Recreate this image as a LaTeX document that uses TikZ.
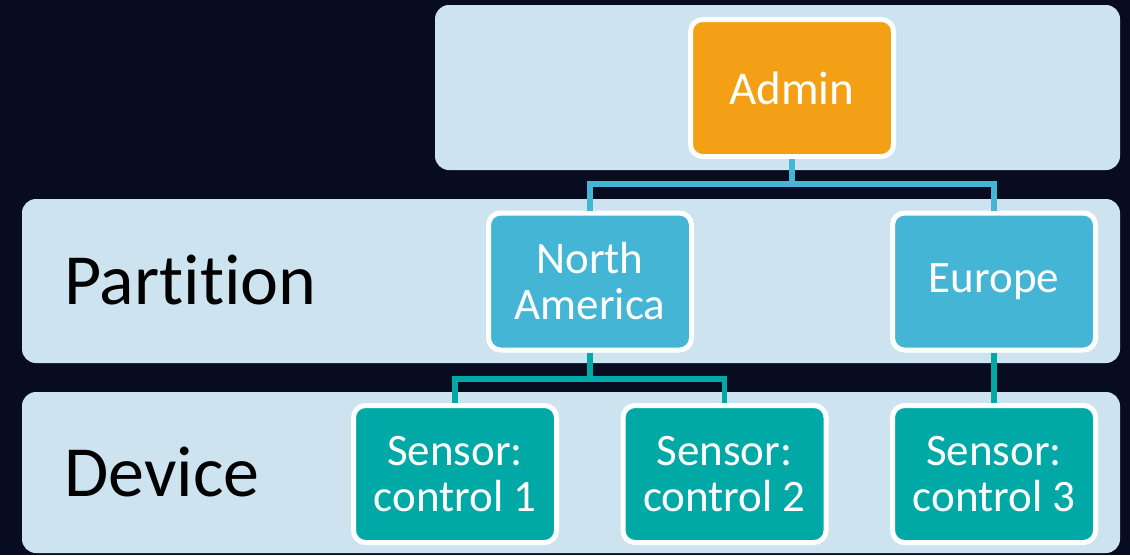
\documentclass[tikz,border=0pt]{standalone}
\usepackage{fontspec}
\setmainfont[Ligatures={NoCommon}]{Carlito}
\definecolor{bgc}{HTML}{070C21}
\definecolor{bandc}{HTML}{CDE4F0}
\definecolor{adminc}{HTML}{F4A017}
\definecolor{partc}{HTML}{45B5D5}
\definecolor{devc}{HTML}{00A9A5}
\begin{document}
\begin{tikzpicture}[x=1pt,y=-1pt,
  band/.style={fill=bandc,rounded corners=14pt},
  boxbase/.style={draw=white,line width=5pt,rounded corners=12pt,text=white,
    minimum width=203pt,minimum height=137pt,align=center,
    font=\fontsize{45}{46}\selectfont},
  adminbox/.style={boxbase,fill=adminc},
  partbox/.style={boxbase,fill=partc},
  devbox/.style={boxbase,fill=devc},
  lvl/.style={anchor=west,inner sep=0pt,font=\fontsize{72}{76}\selectfont,text=black},
  link1/.style={draw=partc,line width=5.5pt},
  link2/.style={draw=devc,line width=5.5pt}]
\fill[bgc] (0,0) rectangle (1130,555);
\useasboundingbox (0,0) rectangle (1130,555);
\fill[band] (435,5) rectangle (1120,170);
\fill[band] (22,199) rectangle (1120,363);
\fill[band] (22,392) rectangle (1120,553);
\node[lvl] (lpart) at (64,280) {Partition};
\node[lvl] (ldev) at (64,472) {Device};
\node[adminbox,font=\fontsize{47}{48}\selectfont] (admin) at (792,88) {Admin};
\node[partbox] (na) at (590,281.5) {North\\America};
\node[partbox] (eu) at (994,281.5) {Europe};
\node[devbox] (s1) at (455,474) {Sensor:\\control 1};
\node[devbox] (s2) at (724.5,474) {Sensor:\\control 2};
\node[devbox] (s3) at (994,474) {Sensor:\\control 3};
\coordinate (j1) at (792,184);
\coordinate (j2) at (590,379);
\draw[link1] (admin.south) -- (j1) -| (na.north);
\draw[link1] (j1) -| (eu.north);
\draw[link2] (na.south) -- (j2) -| (s1.north);
\draw[link2] (j2) -| (s2.north);
\draw[link2] (eu.south) -- (s3.north);
\end{tikzpicture}
\end{document}
